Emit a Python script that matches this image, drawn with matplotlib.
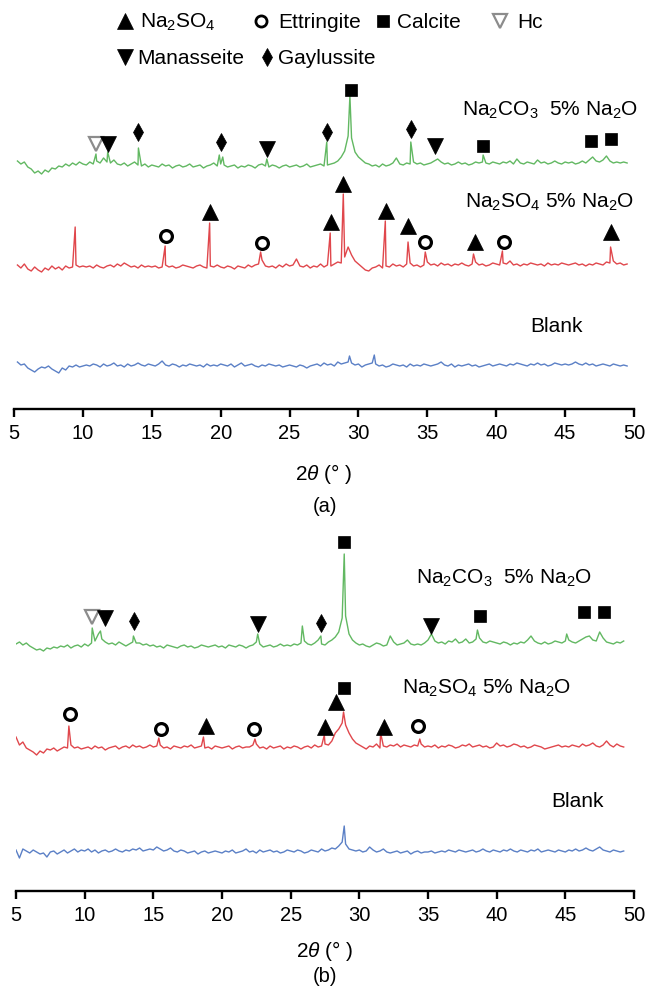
import numpy as np
import matplotlib
matplotlib.use('Agg')
import matplotlib.pyplot as plt

plt.rcParams['font.family'] = ['Liberation Sans', 'DejaVu Sans']
plt.rcParams['mathtext.fontset'] = 'custom'
plt.rcParams['mathtext.rm'] = 'Liberation Sans'
plt.rcParams['mathtext.it'] = 'Liberation Sans:italic'
plt.rcParams['mathtext.default'] = 'regular'

# ---------------- data ----------------
# 2theta grids of the traces (0.25 deg steps)
a_grid = np.arange(5.25, 49.51, 0.25)
b_grid = np.arange(5.0, 49.26, 0.25)

# panel (a) traces: background values (relative to each trace baseline)
a_green = [5, 2, 4, -1, -3, -7, -5, -8, -4, -6, -2, -3, 0, -1, 2, 0, 3, 1, 4, 2,
           1, 4, 2, 5, 3, 8, 4, 3, 6, 2, 1, 3, 0, 2, 4, 1, 0, 2, -1, 1,
           0, -1, 2, 0, 1, -2, 0, 1, -1, 0, 2, -1, 0, 1, -2, 0, 1, 3, 0, 2,
           1, -1, 0, 1, -2, 0, -1, 1, 0, -2, 1, 2, 0, -1, 1, 0, -2, 0, 1, -1,
           0, 1, -1, 0, 2, -1, 0, 1, 2, 0, 1, 2, 3, 5, 9, 15, 30, 28, 14, 9,
           6, 3, 2, 0, 1, -1, 2, 0, 1, 3, 8, 2, 1, 3, 2, 4, 2, 3, 1, 2,
           3, 5, 7, 4, 2, 3, 1, 2, 4, 2, 3, 1, 2, 4, 3, 4, 3, 2, 4, 3,
           2, 4, 3, 5, 2, 7, 3, 2, 4, 3, 2, 6, 3, 4, 2, 3, 5, 3, 2, 4,
           3, 4, 2, 3, 5, 3, 6, 9, 5, 4, 6, 10, 5, 3, 4, 3, 4, 3]
a_green_pk_x = [10.95, 11.8, 14.03, 19.9, 20.15, 23.35, 27.7, 29.38, 33.8, 39.05]
a_green_pk_y = [12, 14, 18, 11, 9, 7, 24, 70, 24, 11]

a_red = [2, -1, 3, -2, -4, 0, -3, -5, -1, -3, 1, -2, 0, -3, 1, -1, 0, 2, 0, 1,
         0, 1, -1, 2, 0, -1, 1, 2, 0, 3, 1, 4, 2, 0, 1, -1, 2, 0, 1, 0,
         1, -1, 0, 2, 0, 1, -1, 0, 2, 1, 0, -1, 1, 2, 0, -1, 1, 0, 2, 0,
         -1, 1, 0, -2, 1, 0, -1, 2, 0, 2, 3, 7, 1, 0, 1, -1, 2, 0, 3, 1,
         2, 8, 1, 0, 2, -1, 1, 0, 3, 0, 2, 1, 3, 5, 4, 10, 20, 12, 6, 3,
         0, -3, -4, -1, 0, 2, -1, 1, 0, 3, 1, 2, 0, 3, 4, 1, 2, 0, 2, 5,
         2, 3, 1, 4, 2, 3, 1, 3, 2, 4, 2, 1, 3, 5, 2, 3, 1, 2, 4, 3,
         2, 4, 3, 6, 2, 3, 1, 3, 2, 4, 3, 2, 3, 1, 4, 2, 3, 2, 4, 3,
         2, 3, 4, 2, 3, 1, 3, 2, 4, 3, 2, 5, 4, 6, 3, 4, 2, 3]
a_red_pk_x = [9.44, 15.97, 19.2, 22.9, 27.95, 28.9, 31.95, 33.6, 34.85, 38.35, 40.45, 48.3]
a_red_pk_y = [40, 21, 44, 15, 34, 73, 46, 25, 15, 13, 16, 20]

a_blue = [4, 1, 2, -2, -4, -6, -3, -1, -2, 0, -3, -5, -7, -2, -4, 0, -1, 1, -1, 0,
          1, 0, 2, 1, -1, 2, 0, 1, 3, 0, 1, -1, 2, 0, 1, 3, 1, 0, 2, 1,
          0, 2, 5, 1, 0, 2, 1, -1, 1, 0, 2, 1, 0, 1, -1, 2, 0, 1, 0, 2,
          1, 0, 2, -1, 1, 3, 0, 1, 2, 0, -1, 1, 0, 2, 1, 0, 1, -1, 0, 1,
          0, -1, 1, 0, -2, 0, 1, 2, 0, 3, 1, 2, 0, 4, 2, 3, 4, 3, 1, 2,
          -1, 1, 2, 3, 2, 0, 1, -1, 0, 2, 1, 0, 1, -1, 2, 0, 1, 0, 2, 1,
          0, 1, 2, 4, 1, 0, 2, -1, 1, 0, 1, 2, 0, 1, -1, 0, 1, 2, 0, 1,
          2, 1, 0, 2, 1, 3, 2, 1, 0, 2, 1, 3, 1, 2, 0, 1, 3, 2, 1, 2,
          1, 2, 4, 2, 1, 3, 1, 2, 0, 1, 2, 1, 0, 2, 1, 0, 1, 0]
a_blue_pk_x = [29.35, 31.15]
a_blue_pk_y = [10, 11]

# panel (b) traces
b_green = [2, 4, 1, 3, 0, -2, -4, -3, -5, -2, -3, -1, -2, 0, -1, 1, -2, 0, 1, -1,
           2, 0, 3, 5, 12, 7, 4, 2, 3, 1, 4, 2, 0, 2, 4, 3, 3, 1, 2, 0,
           1, -1, 0, -2, 1, 0, -1, -2, 0, 1, -1, 0, -2, -1, 1, 0, -1, 0, 1, -1,
           0, -2, 1, 0, -1, 1, 0, -2, 0, 1, 4, 2, -1, 0, 1, -1, 0, 2, 0, 1,
           0, 2, 1, 3, 5, 2, 1, 3, 6, 2, 1, 4, 6, 9, 14, 28, 30, 12, 6, 3,
           1, 2, 0, -1, 1, 3, 2, 0, 1, 10, 4, 1, 2, 3, 6, 2, 1, 2, 1, 3,
           6, 12, 5, 3, 4, 2, 5, 4, 7, 3, 4, 7, 3, 4, 7, 8, 4, 3, 5, 4,
           3, 2, 4, 3, 1, 3, 2, 4, 3, 6, 10, 5, 3, 2, 4, 2, 3, 5, 4, 3,
           5, 6, 4, 3, 5, 7, 9, 10, 6, 5, 14, 8, 4, 3, 2, 4, 3, 5]
b_green_pk_x = [10.55, 11.15, 13.55, 22.6, 25.85, 27.2, 28.9, 38.6, 45.1]
b_green_pk_y = [18, 15, 10, 12, 20, 10, 92, 16, 12]

b_red = [10, 2, 5, -1, -3, -5, -8, -4, -6, -2, -3, -1, -4, -2, 0, -1, 2, -1, 0, -2,
         -1, 0, -2, 1, -1, 0, -3, -1, 0, 1, -2, 0, 1, -1, 2, 0, 1, -1, 0, 2,
         0, 1, 2, -1, 0, -2, 1, 0, -1, 1, 0, 2, -1, 0, 1, -1, 0, -2, 1, 0,
         -1, 0, 1, -2, 0, 1, -1, 0, 0, 2, 3, -1, 0, -2, 1, -1, 0, 1, -2, 0,
         -1, 1, 0, -2, 0, 1, -1, 2, 0, 1, 3, 2, 6, 14, 18, 24, 22, 14, 8, 4,
         2, 0, -2, 1, 0, 3, -1, 1, 0, 2, 1, 3, 0, 2, 1, 0, 2, 1, 3, 0,
         1, 0, 2, -1, 1, 0, 2, 1, -1, 0, 2, 1, 3, 0, 1, 2, 0, 1, -1, 0,
         4, 1, 2, 0, 1, 3, 2, 0, 1, -1, 0, 2, 1, 0, -2, -1, 0, 1, 2, 0,
         1, 0, 2, 1, 0, 3, 1, 2, 4, 1, 0, 2, 6, 2, 0, 3, 1, 0]
b_red_pk_x = [8.85, 15.4, 18.65, 22.4, 27.45, 28.85, 31.55, 34.4]
b_red_pk_y = [21, 9, 10, 8, 12, 35, 14, 8]

b_blue = [2, -6, 3, 1, -1, 2, 0, -2, -1, -5, 0, 1, -2, 0, 2, -1, 1, 3, 0, 2,
          1, 3, 0, 2, -1, 1, 2, 0, 1, 3, 1, 0, 2, 1, 3, 2, 4, 1, 2, 3,
          2, 5, 3, 1, 2, 4, 1, 0, 2, 1, -1, 0, 1, -2, 0, 1, -1, 0, 1, 0,
          -1, 1, 0, 2, -1, 0, 1, 3, 0, 1, -1, 2, 0, 1, 2, 0, 1, -1, 0, 2,
          1, 0, 2, 1, -1, 0, 2, 1, 0, 3, 1, 2, 4, 3, 6, 10, 8, 3, 2, 1,
          2, 0, 1, 5, 2, 0, 1, 3, 0, -1, 0, 1, -1, 0, 1, -2, 0, 1, -1, 0,
          0, 1, -1, 0, 1, 0, 2, 1, 0, 2, 1, 0, 1, 2, 0, 1, 3, 1, 0, 2,
          1, 0, 2, 1, 3, 1, 0, 2, 1, 0, 2, 1, 3, 0, 1, 2, 1, 0, 2, 1,
          0, 2, 1, 3, 1, 2, 4, 2, 1, 3, 5, 2, 1, 0, 2, 1, 0, 1]
b_blue_pk_x = [28.9]
b_blue_pk_y = [26]

# stacking offsets of the traces
a_offsets = [243, 142, 43]
b_offsets = [245, 144, 39]

# phase markers: 2theta and height
a_na2so4_x = [19.2, 28.0, 28.9, 32.0, 33.6, 38.45, 48.35]
a_na2so4_y = [197, 187, 225, 198, 183, 167, 177]
a_ettr_x = [16.0, 23.0, 34.8, 40.6]
a_ettr_y = [173, 166, 167, 167]
a_calc_x = [29.45, 39.05, 46.9, 48.3]
a_calc_y = [319, 263, 268, 270]
a_hc_x = [10.95]
a_hc_y = [265]
a_mana_x = [11.8, 23.35, 35.55]
a_mana_y = [265, 260, 263]
a_gayl_x = [14.0, 20.0, 27.7, 33.8]
a_gayl_y = [277, 267, 277, 280]

b_na2so4_x = [18.8, 27.5, 28.3, 31.8]
b_na2so4_y = [165, 164, 189, 164]
b_ettr_x = [8.95, 15.55, 22.3, 34.25]
b_ettr_y = [177, 162, 162, 165]
b_calc_x = [28.85, 38.75, 46.35, 47.8, 28.9]
b_calc_y = [349, 275, 279, 279, 203]
b_hc_x = [10.5]
b_hc_y = [274]
b_mana_x = [11.5, 22.65, 35.2]
b_mana_y = [273, 267, 265]
b_gayl_x = [13.6, 27.2]
b_gayl_y = [270, 268]

sample_names = [r'Na$_2$CO$_3$  5% Na$_2$O', r'Na$_2$SO$_4$ 5% Na$_2$O', 'Blank']
phase_names = [r'Na$_2$SO$_4$', 'Ettringite', 'Calcite', 'Hc', 'Manasseite', 'Gaylussite']

# ---------------- styling ----------------
colors = ['#62b862', '#e0474c', '#5b80c6']
styles = {
    'na2so4': dict(marker='^', ms=11, mfc='black', mec='black', mew=0.5),
    'ettr': dict(marker='o', ms=8.5, mfc='white', mec='black', mew=2.3),
    'calc': dict(marker='s', ms=9, mfc='black', mec='black', mew=0.5),
    'hc': dict(marker='v', ms=10.5, mfc='white', mec='#8c8c8c', mew=1.6),
    'mana': dict(marker='v', ms=11, mfc='black', mec='black', mew=0.5),
    'gayl': dict(marker='d', ms=8.7, mfc='black', mec='black', mew=0.5),
}

W, H = 648, 987
fig = plt.figure(figsize=(W / 100, H / 100), dpi=100)


def trace(grid, base, pk_x, pk_y, off):
    x = np.concatenate([grid, pk_x])
    y = np.concatenate([np.array(base, float), np.array(pk_y, float)]) + off
    order = np.argsort(x, kind='stable')
    return x[order], y[order]


def setup(ax, ytop):
    ax.set_xlim(5, 50)
    ax.set_ylim(0, ytop)
    for s in ['left', 'right', 'top']:
        ax.spines[s].set_visible(False)
    ax.spines['bottom'].set_linewidth(1.7)
    ax.set_yticks([])
    ax.set_xticks(np.arange(5, 51, 5))
    ax.tick_params(axis='x', direction='out', length=6, width=1.7, pad=4, labelsize=14.5)
    ax.patch.set_alpha(0)


def draw_marks(ax, groups):
    for key, xs, ys in groups:
        ax.plot(xs, ys, ls='none', zorder=5, clip_on=False, **styles[key])


# panel (a)
ax1 = fig.add_axes([14 / W, (H - 410) / H, 620 / W, 340 / H])
setup(ax1, 340)
for base, px, py, off, c in zip([a_green, a_red, a_blue],
                                [a_green_pk_x, a_red_pk_x, a_blue_pk_x],
                                [a_green_pk_y, a_red_pk_y, a_blue_pk_y],
                                a_offsets, colors):
    x, y = trace(a_grid, base, px, py, off)
    ax1.plot(x, y, color=c, lw=1.0)
draw_marks(ax1, [('na2so4', a_na2so4_x, a_na2so4_y), ('ettr', a_ettr_x, a_ettr_y),
                 ('calc', a_calc_x, a_calc_y), ('hc', a_hc_x, a_hc_y),
                 ('mana', a_mana_x, a_mana_y), ('gayl', a_gayl_x, a_gayl_y)])
ax1.text(37.5, 300, sample_names[0], fontsize=15, va='center', ha='left')
ax1.text(37.7, 208, sample_names[1], fontsize=15, va='center', ha='left')
ax1.text(42.5, 83, sample_names[2], fontsize=15, va='center', ha='left')
ax1.set_xlabel(r'2$\mathit{\theta}$ (° )', fontsize=15, labelpad=14)

# panel (b)
ax2 = fig.add_axes([16 / W, (H - 892) / H, 618 / W, 362 / H])
setup(ax2, 362)
for base, px, py, off, c in zip([b_green, b_red, b_blue],
                                [b_green_pk_x, b_red_pk_x, b_blue_pk_x],
                                [b_green_pk_y, b_red_pk_y, b_blue_pk_y],
                                b_offsets, colors):
    x, y = trace(b_grid, base, px, py, off)
    ax2.plot(x, y, color=c, lw=1.0)
draw_marks(ax2, [('na2so4', b_na2so4_x, b_na2so4_y), ('ettr', b_ettr_x, b_ettr_y),
                 ('calc', b_calc_x, b_calc_y), ('hc', b_hc_x, b_hc_y),
                 ('mana', b_mana_x, b_mana_y), ('gayl', b_gayl_x, b_gayl_y)])
ax2.text(34.1, 314, sample_names[0], fontsize=15, va='center', ha='left')
ax2.text(33.1, 204, sample_names[1], fontsize=15, va='center', ha='left')
ax2.text(44.0, 90, sample_names[2], fontsize=15, va='center', ha='left')
ax2.set_xlabel(r'2$\mathit{\theta}$ (° )', fontsize=15, labelpad=10)

fig.text(325 / W, 1 - 506 / H, '(a)', fontsize=14.5, ha='center', va='center')
fig.text(325 / W, 1 - 977 / H, '(b)', fontsize=14.5, ha='center', va='center')

# legend at the top (pixel coordinates overlay)
leg = fig.add_axes([0, 0, 1, 1])
leg.set_xlim(0, W)
leg.set_ylim(H, 0)
leg.axis('off')
leg_items = [('na2so4', 125, 22, 140), ('ettr', 261, 22, 278), ('calc', 383, 22, 397),
             ('hc', 500, 22, 517), ('mana', 125, 58, 137), ('gayl', 267, 58, 278)]
for (key, mx, my, tx), name in zip(leg_items, phase_names):
    st = dict(styles[key])
    if key == 'ettr':
        st['ms'] = 8
        st['mew'] = 2.0
    leg.plot([mx], [my], ls='none', **st)
    leg.text(tx, my, name, fontsize=15, va='center', ha='left')

fig.savefig('out.png', dpi=100)
